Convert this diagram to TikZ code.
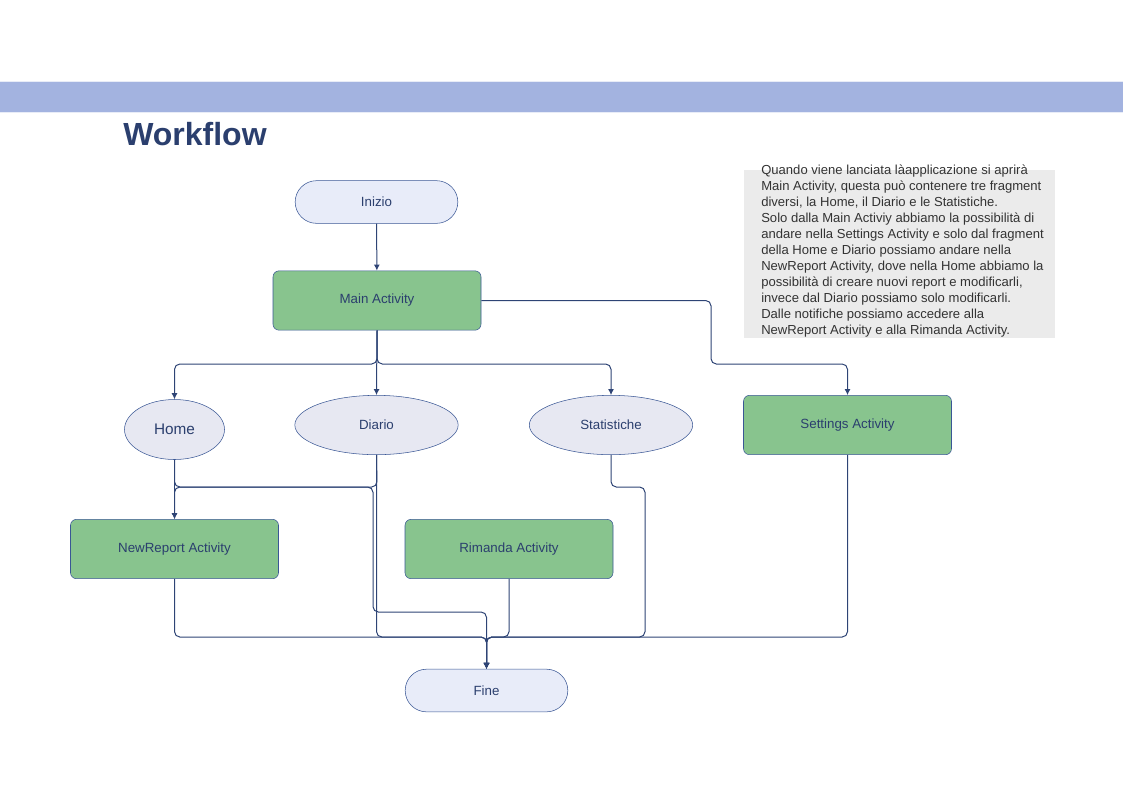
\documentclass[tikz,border=0pt]{standalone}
\usepackage{fontspec}
\setmainfont{Liberation Sans}
\usetikzlibrary{arrows.meta,shapes.geometric}

\definecolor{navy}{HTML}{2B3F6E}
\definecolor{edge}{HTML}{3A5795}
\definecolor{wire}{HTML}{2E4475}
\definecolor{band}{HTML}{A3B3E0}
\definecolor{termfill}{HTML}{E8ECF9}
\definecolor{fragfill}{HTML}{E7E8F2}
\definecolor{actfill}{HTML}{88C48E}
\definecolor{notefill}{HTML}{EBEBEB}

\begin{document}
\begin{tikzpicture}[x=0.75pt,y=-0.75pt,>={Latex[length=4.5pt,width=4.5pt]},
  term/.style={draw=edge,fill=termfill,text=navy,rounded corners=16pt,inner sep=0pt,
               minimum width=122pt,minimum height=32pt,font=\fontsize{10}{12}\selectfont},
  act/.style={draw=edge,fill=actfill,text=navy,rounded corners=4.5pt,inner sep=0pt,
              minimum width=156pt,minimum height=44.5pt,font=\fontsize{10}{12}\selectfont},
  frag/.style={ellipse,draw=edge,fill=fragfill,text=navy,inner sep=0pt,
               minimum width=122.5pt,minimum height=44.5pt,font=\fontsize{10}{12}\selectfont},
  wireline/.style={draw=wire,line width=0.75pt,rounded corners=4pt}]
  \useasboundingbox (0,0) rectangle (1123,794);

  % header
  \fill[band] (0,81) rectangle (1123,112);
  \draw[white!75!band,line width=0.75pt] (0,81) -- (1123,81) (0,112) -- (1123,112);
  \node[anchor=base west,inner sep=0pt,text=navy,font=\fontsize{24}{28}\selectfont\bfseries] (title) at (123,145) {Workflow};

  % note
  \node[fill=notefill,minimum width=233.25pt,minimum height=126pt,inner sep=0pt,anchor=north west] (notebox) at (744,170) {};
  \node[anchor=north west,inner sep=0pt,text=black!80,align=left,font=\fontsize{9.8}{12}\selectfont] (note) at (761,165) {%
    Quando viene lanciata làapplicazione si aprirà\\
    Main Activity, questa può contenere tre fragment\\
    diversi, la Home, il Diario e le Statistiche.\\
    Solo dalla Main Activiy abbiamo la possibilità di\\
    andare nella Settings Activity e solo dal fragment\\
    della Home e Diario possiamo andare nella\\
    NewReport Activity, dove nella Home abbiamo la\\
    possibilità di creare nuovi report e modificarli,\\
    invece dal Diario possiamo solo modificarli.\\
    Dalle notifiche possiamo accedere alla\\
    NewReport Activity e alla Rimanda Activity.};

  % flow
  \node[term] (inizio) at (376.5,202) {Inizio};
  \node[act] (main) at (377,300.5) {Main Activity};
  \node[frag,minimum width=75pt,minimum height=45pt,font=\fontsize{11.5}{14}\selectfont] (home) at (174.5,429.5) {Home};
  \node[frag] (diario) at (376.5,425) {Diario};
  \node[frag] (stat) at (611,425) {Statistiche};
  \node[act] (settings) at (847.5,425) {Settings Activity};
  \node[act] (newrep) at (174.5,549) {NewReport Activity};
  \node[act] (rimanda) at (509,549) {Rimanda Activity};
  \node[term] (fine) at (486.5,690.5) {Fine};

  \coordinate (split) at (377,364);
  \coordinate (setbend) at (711,364);
  \coordinate (diabend) at (377,487);
  \coordinate (homebend) at (373,487);
  \coordinate (homebus) at (486.5,612);
  \coordinate (statbend) at (645,487);
  \coordinate (finebus) at (486.5,637);

  \draw[wireline,->] (inizio) -- (main);
  \draw[wireline,->] (main.south) -- (split) -| (home.north);
  \draw[wireline,->] (main.south) -- (diario.north);
  \draw[wireline,->] (main.south) -- (split) -| (stat.north);
  \draw[wireline,->] (main.east) -| (setbend) -| (settings.north);
  \draw[wireline,->] (home.south) -- (newrep.north);
  \draw[wireline,->] (diario.south) -- (diabend) -| (newrep.north);
  \draw[wireline,->] (home.south) |- (homebend) |- (homebus) -- (fine.north);
  \draw[wireline,->] (diario.south) |- (finebus) -- (fine.north);
  \draw[wireline,->] (stat.south) |- (statbend) |- (finebus) -- (fine.north);
  \draw[wireline,->] (newrep.south) |- (finebus) -- (fine.north);
  \draw[wireline,->] (rimanda.south) |- (finebus) -- (fine.north);
  \draw[wireline,->] (settings.south) |- (finebus) -- (fine.north);
\end{tikzpicture}
\end{document}
